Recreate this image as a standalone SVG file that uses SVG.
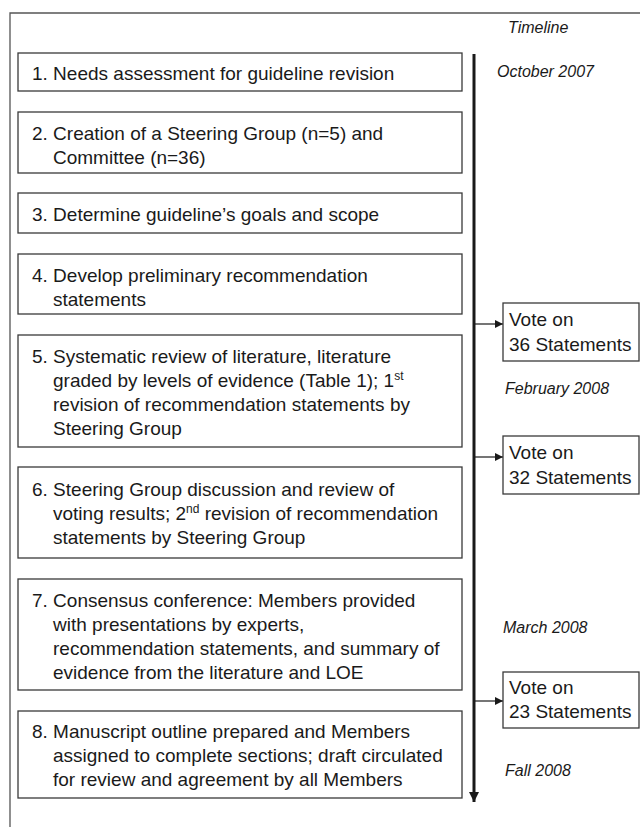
<svg xmlns="http://www.w3.org/2000/svg" width="640" height="827" viewBox="0 0 640 827">
<style>
text{font-family:"Liberation Sans",Arial,sans-serif;fill:#1a1a1a}
.t{font-size:19px}
.d{font-size:16px;font-style:italic}
.box{fill:#fff;stroke:#3a3a3a;stroke-width:1.3}
.sup{font-size:12px}
</style>
<defs>
<marker id="ah" viewBox="0 0 10 10" refX="10" refY="5" markerWidth="8" markerHeight="8" markerUnits="userSpaceOnUse" orient="auto">
<path d="M0,0 L10,5 L0,10 Z" fill="#1a1a1a"/>
</marker>
<marker id="ahb" viewBox="0 0 10 10" refX="10" refY="5" markerWidth="10" markerHeight="10" markerUnits="userSpaceOnUse" orient="auto">
<path d="M0,0 L10,5 L0,10 Z" fill="#1a1a1a"/>
</marker>
</defs>
<rect x="0" y="0" width="640" height="827" fill="#fff"/>
<path d="M10,827 V13 H640" fill="none" stroke="#555" stroke-width="1.3"/>
<text class="d" x="508" y="33">Timeline</text>

<g id="connectors">
<line x1="474" y1="54" x2="474" y2="802" stroke="#1a1a1a" stroke-width="3" marker-end="url(#ahb)"/>
<line x1="475" y1="324" x2="503" y2="324" stroke="#1a1a1a" stroke-width="1.2" marker-end="url(#ah)"/>
<line x1="475" y1="457" x2="503" y2="457" stroke="#1a1a1a" stroke-width="1.2" marker-end="url(#ah)"/>
<line x1="475" y1="701" x2="503" y2="701" stroke="#1a1a1a" stroke-width="1.2" marker-end="url(#ah)"/>
</g>

<g id="step1">
<rect class="box" x="18" y="53" width="444" height="38"/>
<text class="t" x="32" y="80">1. Needs assessment for guideline revision</text>
</g>
<g id="step2">
<rect class="box" x="18" y="112" width="444" height="61"/>
<text class="t" x="32" y="140">2. Creation of a Steering Group (n=5) and</text>
<text class="t" x="53" y="164">Committee (n=36)</text>
</g>
<g id="step3">
<rect class="box" x="18" y="193" width="444" height="40"/>
<text class="t" x="32" y="221">3. Determine guideline’s goals and scope</text>
</g>
<g id="step4">
<rect class="box" x="18" y="254" width="444" height="60"/>
<text class="t" x="32" y="282">4. Develop preliminary recommendation</text>
<text class="t" x="53" y="306">statements</text>
</g>
<g id="step5">
<rect class="box" x="18" y="335" width="444" height="112"/>
<text class="t" x="32" y="363">5. Systematic review of literature, literature</text>
<text class="t" x="53" y="387">graded by levels of evidence (Table 1); 1<tspan class="sup" dy="-7">st</tspan></text>
<text class="t" x="53" y="411">revision of recommendation statements by</text>
<text class="t" x="53" y="435">Steering Group</text>
</g>
<g id="step6">
<rect class="box" x="18" y="467" width="444" height="91"/>
<text class="t" x="32" y="496">6. Steering Group discussion and review of</text>
<text class="t" x="53" y="520">voting results; 2<tspan class="sup" dy="-7">nd</tspan><tspan dy="7"> revision of recommendation</tspan></text>
<text class="t" x="53" y="544">statements by Steering Group</text>
</g>
<g id="step7">
<rect class="box" x="18" y="579" width="444" height="111"/>
<text class="t" x="32" y="607">7. Consensus conference: Members provided</text>
<text class="t" x="53" y="631">with presentations by experts,</text>
<text class="t" x="53" y="655">recommendation statements, and summary of</text>
<text class="t" x="53" y="679">evidence from the literature and LOE</text>
</g>
<g id="step8">
<rect class="box" x="18" y="711" width="444" height="87"/>
<text class="t" x="32" y="738">8. Manuscript outline prepared and Members</text>
<text class="t" x="53" y="762">assigned to complete sections; draft circulated</text>
<text class="t" x="53" y="786">for review and agreement by all Members</text>
</g>

<g id="vote1">
<rect class="box" x="503" y="303" width="136" height="58"/>
<text class="t" x="509" y="326">Vote on</text>
<text class="t" x="509" y="351">36 Statements</text>
</g>
<g id="vote2">
<rect class="box" x="503" y="436" width="136" height="58"/>
<text class="t" x="509" y="459">Vote on</text>
<text class="t" x="509" y="484">32 Statements</text>
</g>
<g id="vote3">
<rect class="box" x="503" y="672" width="136" height="56"/>
<text class="t" x="509" y="694">Vote on</text>
<text class="t" x="509" y="718">23 Statements</text>
</g>

<g id="dates">
<text class="d" x="497" y="77">October 2007</text>
<text class="d" x="505" y="394">February 2008</text>
<text class="d" x="503" y="633">March 2008</text>
<text class="d" x="505" y="776">Fall 2008</text>
</g>
</svg>
